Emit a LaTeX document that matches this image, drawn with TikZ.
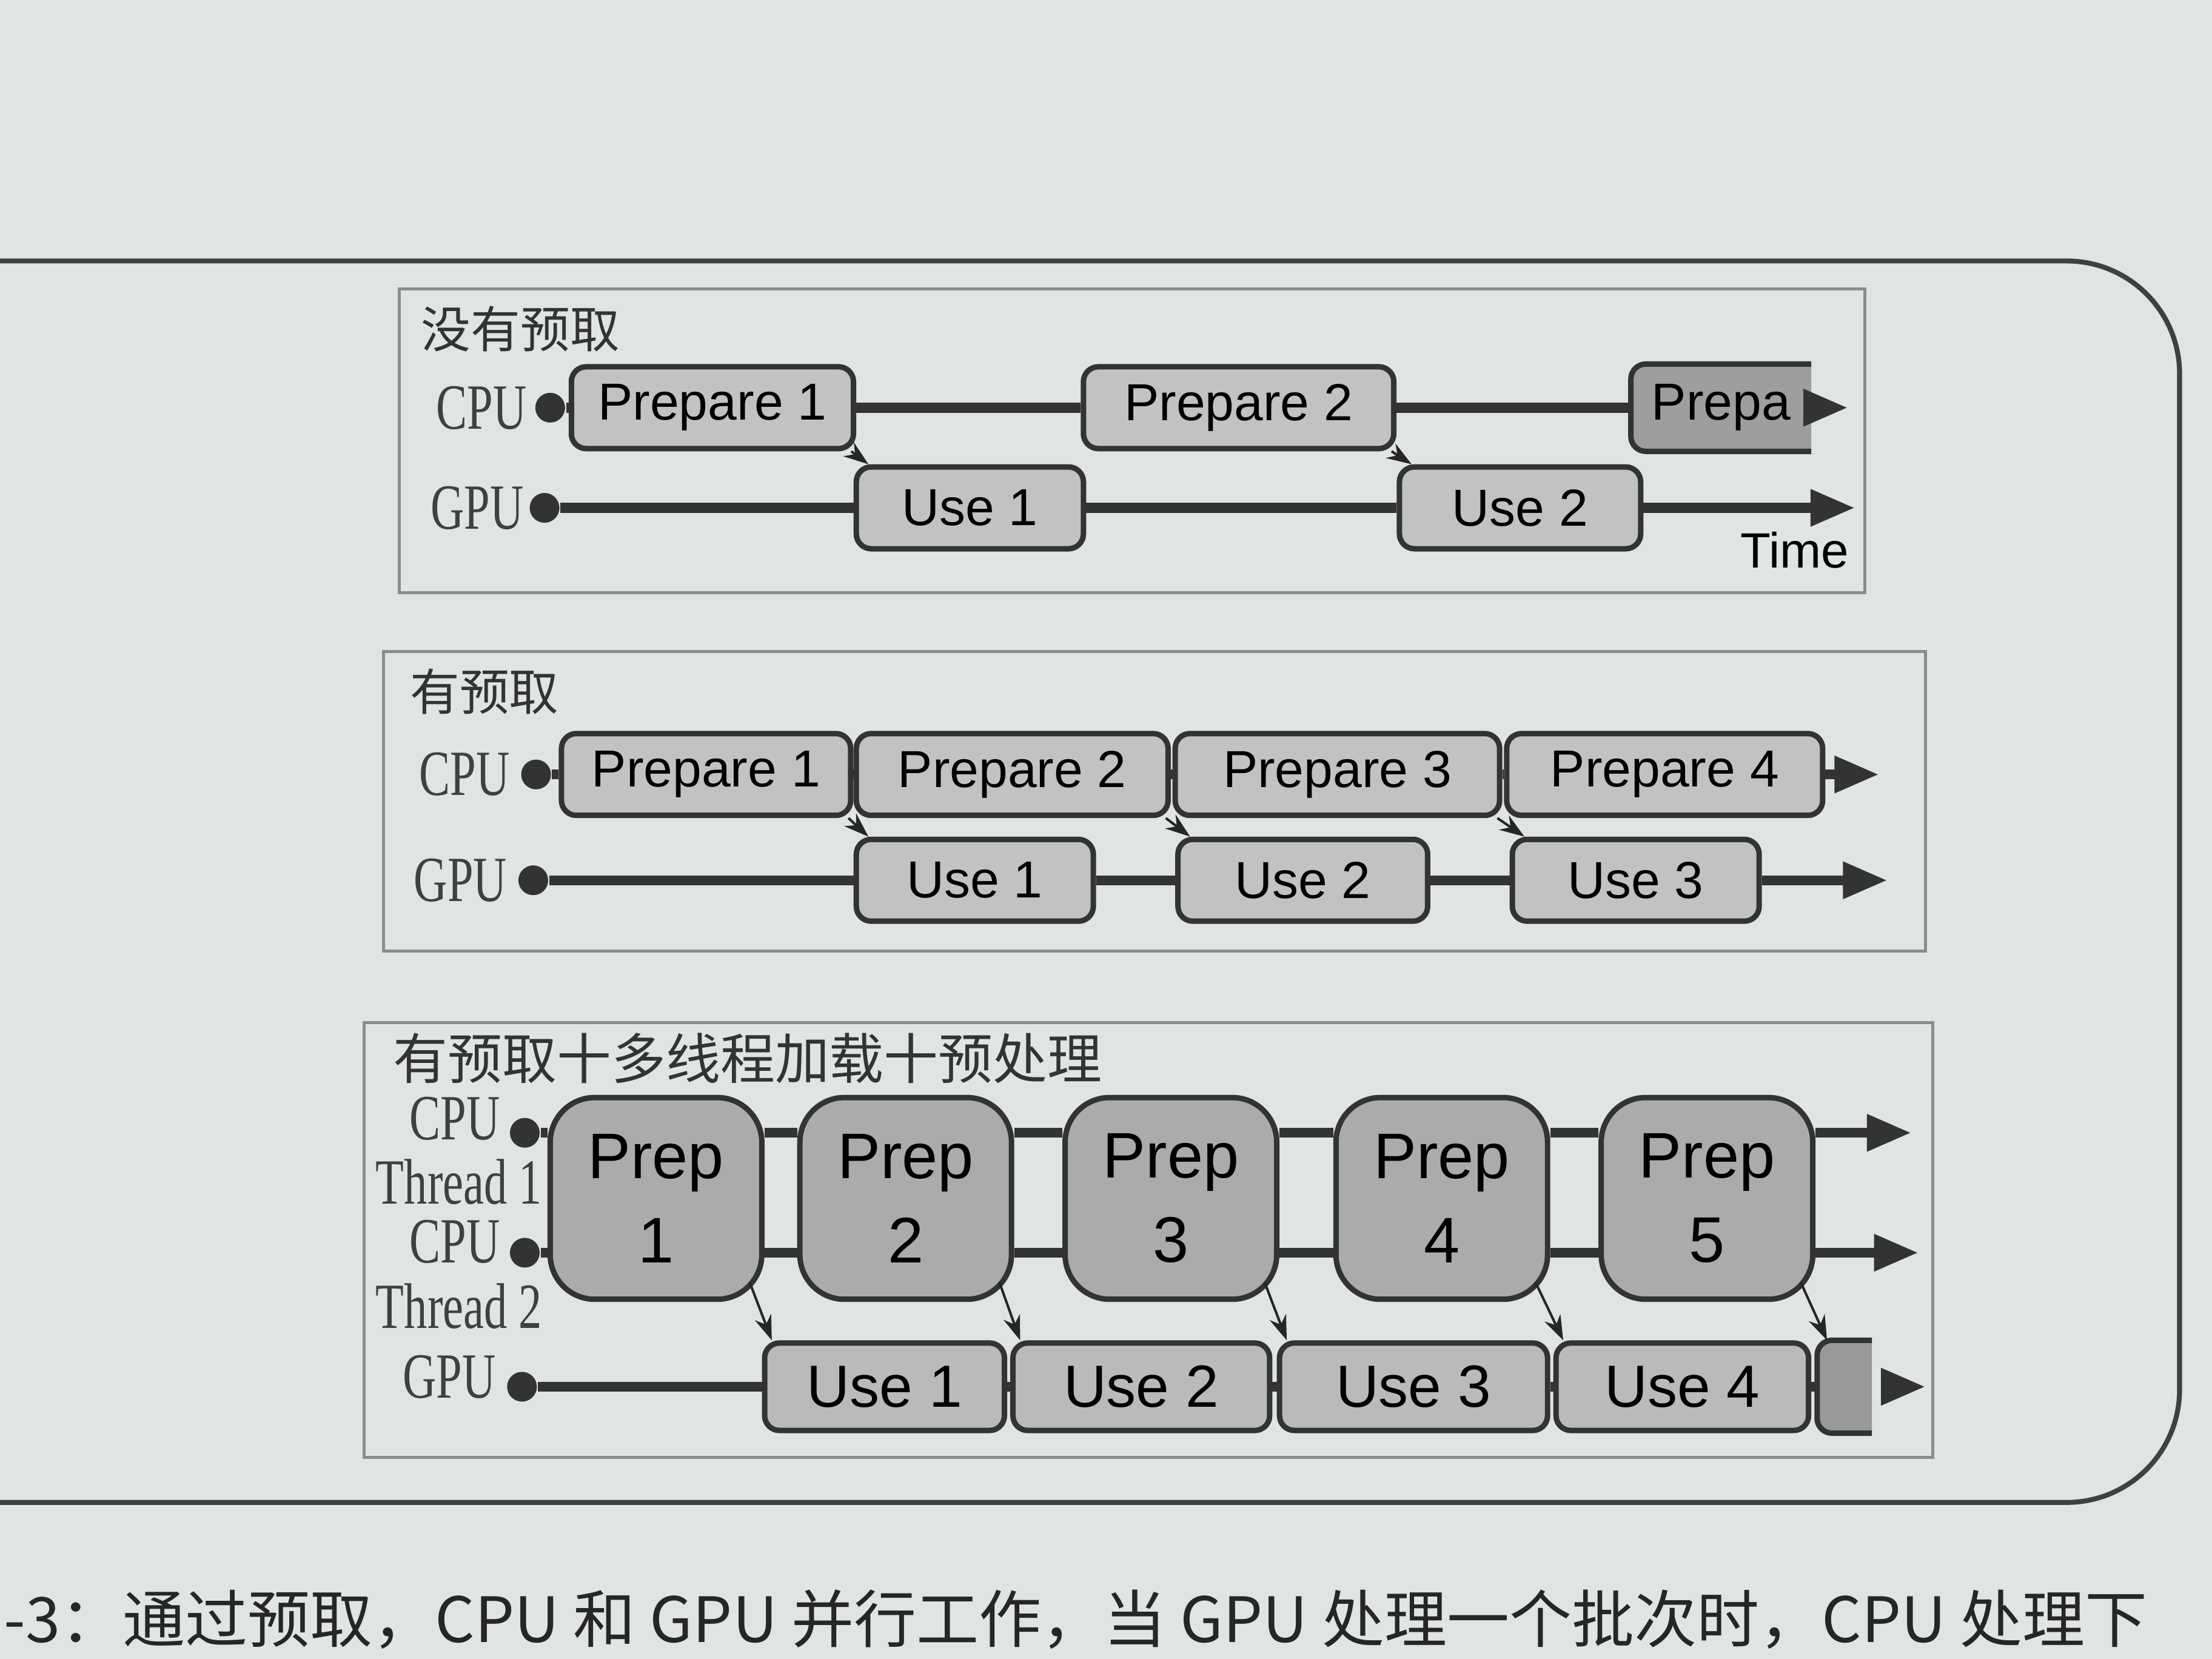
\documentclass[tikz,border=0pt]{standalone}
\usepackage{fontspec}
\usepackage{graphicx}
\setmainfont{Liberation Sans}
\newfontfamily\serif{Liberation Serif}
\newfontfamily\cjk{Noto Sans CJK SC}
\usetikzlibrary{arrows.meta}
\definecolor{paper}{RGB}{224,228,229}
\newcommand{\rowlabel}[1]{{\serif\fontsize{13}{14}\selectfont\scalebox{0.72}[1]{#1}}}
\begin{document}
\begin{tikzpicture}[x=1cm, y=-1cm, >={Triangle[length=9pt,width=7pt]},
    box/.style={draw=black!80, line width=1.1pt, fill=black!24, rounded corners=3pt, inner sep=0pt,
      minimum height=0.58cm, font=\fontsize{10.5}{12}\selectfont},
    tallbox/.style={box, rounded corners=9pt, fill=black!33, minimum width=1.50cm, minimum height=1.43cm,
      align=center, font=\fontsize{13}{17}\selectfont},
    usebox/.style={box, fill=black!27, minimum height=0.62cm, font=\fontsize{12}{14}\selectfont},
    track/.style={line width=2pt, draw=black!80},
    hop/.style={-{Stealth[length=5pt,width=3.5pt]}, line width=0.5pt, draw=black!85},
    pin/.style={circle, fill=black!80, inner sep=0pt, minimum size=6pt},
    panel/.style={draw=black!45, line width=0.6pt},
    title/.style={anchor=west, inner sep=0pt, text=black!80, font=\cjk\fontsize{10}{12}\selectfont},
    rowname/.style={anchor=east, inner sep=0pt, text=black!75}]
  % page
  \useasboundingbox (0,0) rectangle (15.68,11.76);
  \fill[paper] (0,0) rectangle (15.68,11.76);
  \draw[line width=1pt, black!75, rounded corners=0.8cm] (-0.5,1.85) -- (15.45,1.85) -- (15.45,10.65) -- (-0.5,10.65);

  % Panel 1 - no prefetch
  \draw[panel] (2.83,2.05) rectangle (13.22,4.20);
  \node[title] (t1) at (2.98,2.33) {没有预取};
  \node[rowname] (c1) at (3.74,2.89) {\rowlabel{CPU}};
  \node[rowname] (g1) at (3.72,3.60) {\rowlabel{GPU}};
  \node[pin] (c1pin) at (3.90,2.89) {};
  \node[pin] (g1pin) at (3.86,3.60) {};
  \node[box, minimum width=2.00cm] (p1prep1) at (5.05,2.89) {Prepare 1};
  \node[box, minimum width=2.20cm] (p1prep2) at (8.78,2.89) {Prepare 2};
  \node[box, draw=none, fill=none, minimum width=1.24cm] (p1prep3) at (12.20,2.89) {};
  \fill[black!38] (p1prep3.north east) [rounded corners=3pt] -- (p1prep3.north west) -- (p1prep3.south west) [sharp corners] -- (p1prep3.south east) -- cycle;
  \draw[line width=1.1pt, black!80] (p1prep3.north east) [rounded corners=3pt] -- (p1prep3.north west) -- (p1prep3.south west) [sharp corners] -- (p1prep3.south east);
  \node[font=\fontsize{10.5}{12}\selectfont] (p1prep3txt) at (p1prep3) {Prepa};
  \node[box, minimum width=1.61cm] (p1use1) at (6.875,3.60) {Use 1};
  \node[box, minimum width=1.71cm] (p1use2) at (10.775,3.60) {Use 2};
  \coordinate (p1cend) at (13.10,2.89);
  \coordinate (p1gend) at (13.15,3.60);
  \node[font=\fontsize{10}{12}\selectfont, inner sep=0pt] (time) at (12.72,3.90) {Time};
  \draw[track] (c1pin) -- (p1prep1);
  \draw[track] (p1prep1) -- (p1prep2);
  \draw[track] (p1prep2) -- (p1prep3);
  \draw[track, ->] (p1prep3.east) -- (p1cend);
  \draw[track] (g1pin) -- (p1use1);
  \draw[track] (p1use1) -- (p1use2);
  \draw[track, ->] (p1use2) -- (p1gend);
  \draw[hop] ([xshift=-1pt]p1prep1.south east) -- ([xshift=3pt]p1use1.north west);
  \draw[hop] ([xshift=-1pt]p1prep2.south east) -- ([xshift=3pt]p1use2.north west);

  % Panel 2 - prefetch
  \draw[panel] (2.72,4.62) rectangle (13.65,6.74);
  \node[title] (t2) at (2.90,4.90) {有预取};
  \node[rowname] (c2) at (3.62,5.49) {\rowlabel{CPU}};
  \node[rowname] (g2) at (3.60,6.24) {\rowlabel{GPU}};
  \node[pin] (c2pin) at (3.80,5.49) {};
  \node[pin] (g2pin) at (3.78,6.24) {};
  \node[box, minimum width=2.05cm] (p2prep1) at (5.005,5.49) {Prepare 1};
  \node[box, minimum width=2.21cm] (p2prep2) at (7.175,5.49) {Prepare 2};
  \node[box, minimum width=2.30cm] (p2prep3) at (9.48,5.49) {Prepare 3};
  \node[box, minimum width=2.24cm] (p2prep4) at (11.80,5.49) {Prepare 4};
  \node[box, minimum width=1.68cm] (p2use1) at (6.91,6.24) {Use 1};
  \node[box, minimum width=1.77cm] (p2use2) at (9.235,6.24) {Use 2};
  \node[box, minimum width=1.75cm] (p2use3) at (11.595,6.24) {Use 3};
  \coordinate (p2cend) at (13.32,5.49);
  \coordinate (p2gend) at (13.38,6.24);
  \draw[track] (c2pin) -- (p2prep1);
  \draw[track] (p2prep1) -- (p2prep2);
  \draw[track] (p2prep2) -- (p2prep3);
  \draw[track] (p2prep3) -- (p2prep4);
  \draw[track, ->] (p2prep4) -- (p2cend);
  \draw[track] (g2pin) -- (p2use1);
  \draw[track] (p2use1) -- (p2use2);
  \draw[track] (p2use2) -- (p2use3);
  \draw[track, ->] (p2use3) -- (p2gend);
  \draw[hop] ([xshift=-1pt]p2prep1.south east) -- ([xshift=3pt]p2use1.north west);
  \draw[hop] ([xshift=-1pt]p2prep2.south east) -- ([xshift=3pt]p2use2.north west);
  \draw[hop] ([xshift=-1pt]p2prep3.south east) -- ([xshift=3pt]p2use3.north west);

  % Panel 3 - prefetch + multithreaded loading + preprocessing
  \draw[panel] (2.58,7.25) rectangle (13.70,10.33);
  \node[title, font=\cjk\fontsize{11}{13}\selectfont] (t3) at (2.78,7.50) {有预取十多线程加载十预处理};
  \node[rowname] (c3a) at (3.55,7.93) {\rowlabel{CPU}};
  \node[rowname] (th1) at (3.85,8.38) {\rowlabel{Thread 1}};
  \node[rowname] (c3b) at (3.55,8.80) {\rowlabel{CPU}};
  \node[rowname] (th2) at (3.85,9.26) {\rowlabel{Thread 2}};
  \node[rowname] (g3) at (3.52,9.76) {\rowlabel{GPU}};
  \node[pin] (c3apin) at (3.72,8.03) {};
  \node[pin] (c3bpin) at (3.72,8.88) {};
  \node[pin] (g3pin) at (3.70,9.83) {};
  \node[tallbox] (p3prep1) at (4.65,8.495) {Prep\\1};
  \node[tallbox] (p3prep2) at (6.42,8.495) {Prep\\2};
  \node[tallbox] (p3prep3) at (8.30,8.495) {Prep\\3};
  \node[tallbox] (p3prep4) at (10.22,8.495) {Prep\\4};
  \node[tallbox] (p3prep5) at (12.10,8.495) {Prep\\5};
  \node[usebox, minimum width=1.70cm] (p3use1) at (6.27,9.83) {Use 1};
  \node[usebox, minimum width=1.82cm] (p3use2) at (8.09,9.83) {Use 2};
  \node[usebox, minimum width=1.90cm] (p3use3) at (10.02,9.83) {Use 3};
  \node[usebox, minimum width=1.79cm] (p3use4) at (11.925,9.83) {Use 4};
  \node[usebox, draw=none, fill=none, minimum width=0.35cm] (p3use5) at (13.075,9.83) {};
  \fill[black!40] (p3use5.north east) [rounded corners=3pt] -- (p3use5.north west) -- (p3use5.south west) [sharp corners] -- (p3use5.south east) -- cycle;
  \draw[line width=1.1pt, black!80] (p3use5.north east) [rounded corners=3pt] -- (p3use5.north west) -- (p3use5.south west) [sharp corners] -- (p3use5.south east);
  \coordinate (p3aend) at (13.55,8.03);
  \coordinate (p3bend) at (13.60,8.88);
  \coordinate (p3g0) at (13.38,9.83);
  \coordinate (p3g1) at (13.65,9.83);
  \draw[track] (c3apin) -- (c3apin -| p3prep1.west);
  \draw[track] (c3bpin) -- (c3bpin -| p3prep1.west);
  \draw[track] (p3prep1.east |- c3apin) -- (p3prep2.west |- c3apin);
  \draw[track] (p3prep1.east |- c3bpin) -- (p3prep2.west |- c3bpin);
  \draw[track] (p3prep2.east |- c3apin) -- (p3prep3.west |- c3apin);
  \draw[track] (p3prep2.east |- c3bpin) -- (p3prep3.west |- c3bpin);
  \draw[track] (p3prep3.east |- c3apin) -- (p3prep4.west |- c3apin);
  \draw[track] (p3prep3.east |- c3bpin) -- (p3prep4.west |- c3bpin);
  \draw[track] (p3prep4.east |- c3apin) -- (p3prep5.west |- c3apin);
  \draw[track] (p3prep4.east |- c3bpin) -- (p3prep5.west |- c3bpin);
  \draw[track, ->] (p3prep5.east |- c3apin) -- (p3aend);
  \draw[track, ->] (p3prep5.east |- c3bpin) -- (p3bend);
  \draw[track] (g3pin) -- (p3use1);
  \draw[track] (p3use1) -- (p3use2);
  \draw[track] (p3use2) -- (p3use3);
  \draw[track] (p3use3) -- (p3use4);
  \draw[track] (p3use4) -- (p3use5);
  \draw[track, ->] (p3g0) -- (p3g1);
  \draw[hop] ([xshift=-3pt,yshift=4pt]p3prep1.south east) -- ([xshift=2pt]p3use1.north west);
  \draw[hop] ([xshift=-3pt,yshift=4pt]p3prep2.south east) -- ([xshift=2pt]p3use2.north west);
  \draw[hop] ([xshift=-3pt,yshift=4pt]p3prep3.south east) -- ([xshift=2pt]p3use3.north west);
  \draw[hop] ([xshift=-3pt,yshift=4pt]p3prep4.south east) -- ([xshift=2pt]p3use4.north west);
  \draw[hop] ([xshift=-3pt,yshift=4pt]p3prep5.south east) -- ([xshift=2pt]p3use5.north west);

  % caption
  \node[anchor=west, inner sep=0pt, text=black!85, font=\cjk\fontsize{12.6}{15}\selectfont] (cap) at (0.02,11.48)
    {-3：通过预取，CPU 和 GPU 并行工作，当 GPU 处理一个批次时，CPU 处理下};
\end{tikzpicture}
\end{document}
